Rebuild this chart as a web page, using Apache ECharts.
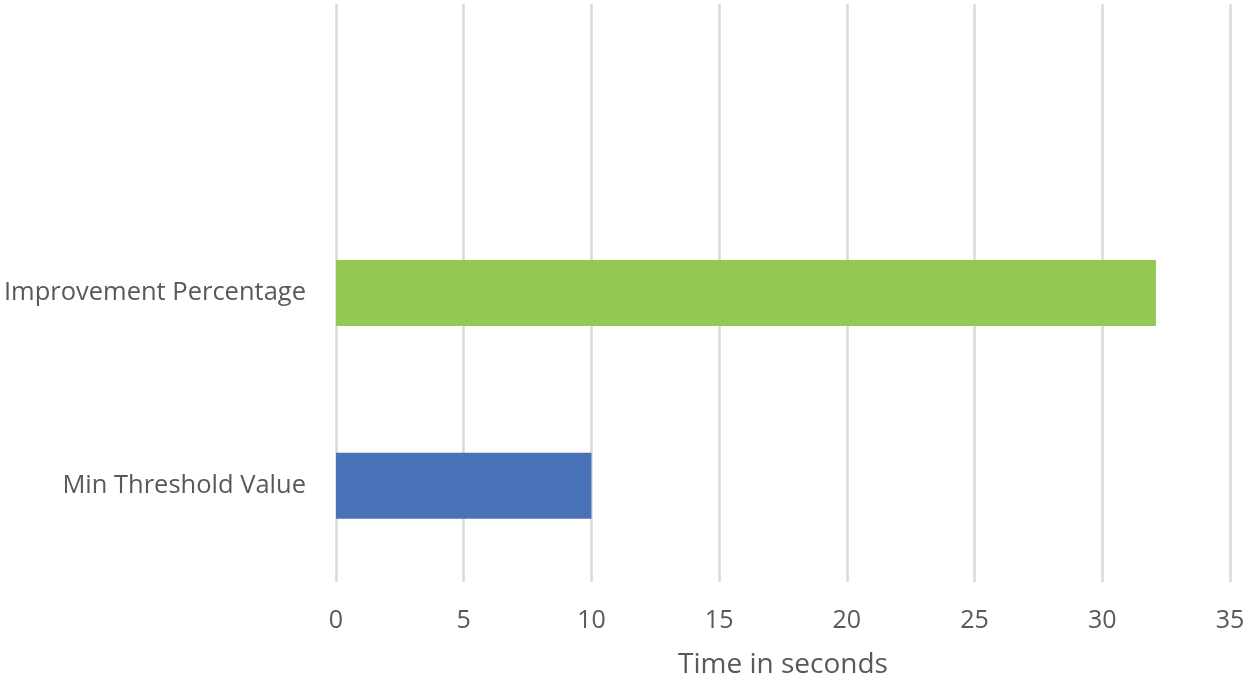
<!DOCTYPE html>
<html>
<head>
<meta charset="utf-8">
<script src="https://cdn.jsdelivr.net/npm/echarts@6/dist/echarts.min.js"></script>
<style>
  html, body { margin: 0; padding: 0; background: #fff; }
  #chart { width: 1250px; height: 683px; }
</style>
</head>
<body>
<div id="chart"></div>
<script>
// data
const categories = ['Min Threshold Value', 'Improvement Percentage', ''];
const values = [10, 32.1, null];
const barColors = ['#4a72b8', '#92c853', '#ffffff'];
const xTicks = { min: 0, max: 35, interval: 5 };

const chart = echarts.init(document.getElementById('chart'));
const font = '"Open Sans", sans-serif';

const option = {
  animation: false,
  grid: { left: 336, right: 20, top: 4, bottom: 101, containLabel: false, outerBoundsMode: 'none' },
  xAxis: {
    type: 'value',
    min: xTicks.min,
    max: xTicks.max,
    interval: xTicks.interval,
    name: 'Time in seconds',
    nameLocation: 'middle',
    nameGap: 69,
    nameTextStyle: { color: '#595959', fontSize: 28, fontFamily: font },
    axisLine: { show: false },
    axisTick: { show: false },
    axisLabel: { color: '#595959', fontSize: 25, fontFamily: font, margin: 26 },
    splitLine: { show: true, lineStyle: { color: '#d9d9d9', width: 2.5 } }
  },
  yAxis: {
    type: 'category',
    data: categories,
    axisLine: { show: false },
    axisTick: { show: false },
    axisLabel: { color: '#595959', fontSize: 25.5, fontFamily: font, margin: 30 },
    splitLine: { show: false }
  },
  series: [{
    type: 'bar',
    barWidth: 66,
    data: values.map((v, i) => ({ value: v, itemStyle: { color: barColors[i] } }))
  }]
};

chart.setOption(option);
</script>
</body>
</html>
